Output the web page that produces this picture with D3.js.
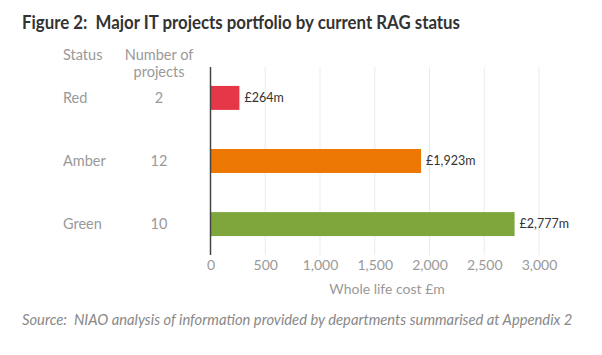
<!DOCTYPE html>
<html><head><meta charset="utf-8">
<script src="https://cdn.jsdelivr.net/npm/d3@7"></script>
<style>body{margin:0;background:#fff}svg{display:block}text{font-family:Lato,"Open Sans",sans-serif}</style>
</head><body><svg id="c" width="602" height="355"></svg>
<script>
const statuses = ["Red", "Amber", "Green"];
const projectCounts = [2, 12, 10];
const costs = [264, 1923, 2777];
const costLabels = ["£264m", "£1,923m", "£2,777m"];
const tickValues = [0, 500, 1000, 1500, 2000, 2500, 3000];
const colors = ["#e63748", "#ec7703", "#7ea63c"];

const svg = d3.select("#c");
const x = d3.scaleLinear().domain([0, 3000]).range([210.5, 539]);
const y = d3.scaleBand().domain(statuses).range([67, 255]).paddingInner(0.62).paddingOuter(0.3);

function fit(sel, target) {
  const w = sel.node().getComputedTextLength();
  const fs = parseFloat(sel.attr("font-size"));
  sel.attr("font-size", fs * target / w);
}

svg.append("text").attr("x", 22).attr("y", 29).attr("font-size", 19.5).attr("font-weight", 700)
  .attr("fill", "#333").style("white-space", "pre")
  .attr("textLength", 438).attr("lengthAdjust", "spacingAndGlyphs")
  .text("Figure 2:  Major IT projects portfolio by current RAG status");

// gridlines
svg.append("g").selectAll("line").data(tickValues.slice(1)).join("line")
  .attr("x1", d => x(d)).attr("x2", d => x(d)).attr("y1", 67).attr("y2", 255)
  .attr("stroke", "#ebebeb").attr("stroke-width", 1);

// bars
svg.append("g").selectAll("rect").data(statuses).join("rect")
  .attr("x", x(0)).attr("y", d => y(d)).attr("height", y.bandwidth())
  .attr("width", (d, i) => x(costs[i]) - x(0)).attr("fill", (d, i) => colors[i]);

svg.append("g").selectAll("text").data(statuses).join("text")
  .attr("x", (d, i) => x(costs[i]) + 5).attr("y", d => y(d) + y.bandwidth() / 2)
  .attr("dy", "0.35em").attr("font-size", 12.5).attr("fill", "#333").text((d, i) => costLabels[i]);

// y axis line
svg.append("line").attr("x1", x(0)).attr("x2", x(0)).attr("y1", 67).attr("y2", 255)
  .attr("stroke", "#444").attr("stroke-width", 1.5);

// x axis
const xAxis = d3.axisBottom(x).tickValues(tickValues).tickSize(0).tickPadding(0)
  .tickFormat(d3.format(","));
const gx = svg.append("g").attr("transform", "translate(0,260)").call(xAxis);
gx.select(".domain").remove();
gx.selectAll("text").attr("font-size", 14).attr("fill", "#999").attr("font-family", "Lato,'Open Sans',sans-serif");

svg.append("text").attr("x", 387).attr("y", 294).attr("text-anchor", "middle")
  .attr("font-size", 14).attr("fill", "#999").text("Whole life cost £m");

// headers
const hs = 14.5;
svg.append("text").attr("x", 63).attr("y", 60).attr("font-size", hs).attr("fill", "#999").text("Status");
svg.append("text").attr("x", 159).attr("y", 60).attr("text-anchor", "middle").attr("font-size", hs).attr("fill", "#999").text("Number of");
svg.append("text").attr("x", 159).attr("y", 77).attr("text-anchor", "middle").attr("font-size", hs).attr("fill", "#999").text("projects");

svg.append("g").selectAll("text").data(statuses).join("text")
  .attr("x", 63).attr("y", d => y(d) + y.bandwidth() / 2).attr("dy", "0.35em")
  .attr("font-size", hs).attr("fill", "#999").text(d => d);
svg.append("g").selectAll("text").data(statuses).join("text")
  .attr("x", 159).attr("y", d => y(d) + y.bandwidth() / 2).attr("dy", "0.35em").attr("text-anchor", "middle")
  .attr("font-size", hs).attr("fill", "#999").text((d, i) => projectCounts[i]);

const src = svg.append("text").attr("x", 22).attr("y", 325).attr("font-size", 13).attr("font-style", "italic")
  .attr("fill", "#888").style("white-space", "pre")
  .text("Source:  NIAO analysis of information provided by departments summarised at Appendix 2");
fit(src, 551);
</script></body></html>
